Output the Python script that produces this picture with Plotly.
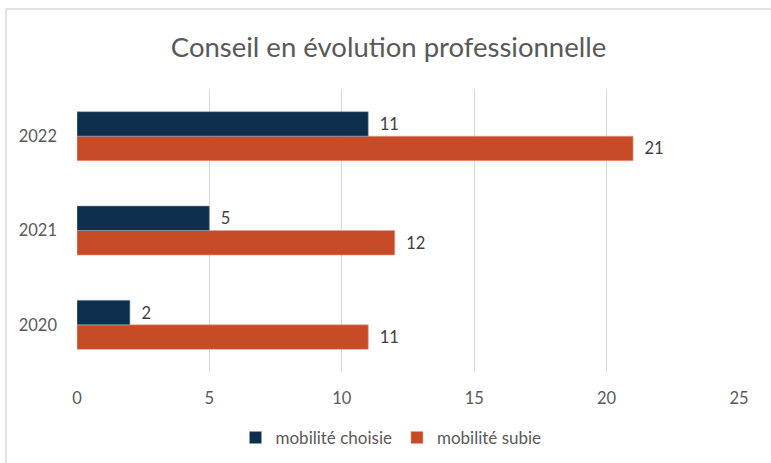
import plotly.graph_objects as go

years = ["2020", "2021", "2022"]
choisie = [2, 5, 11]
subie = [11, 12, 21]
series_names = ["mobilité choisie", "mobilité subie"]
title_text = "Conseil en évolution professionnelle"
x_ticks = [0, 5, 10, 15, 20, 25]

W, H = 771, 463
L, R, T, B = 77, 32, 89, 91
pw, ph = W - L - R, H - T - B

def px_x(px):
    return (px - L) / pw

def px_y(py):
    return (H - B - py) / ph

font = "Lato, 'Open Sans', sans-serif"
nb = "\u00a0\u00a0"

fig = go.Figure()
fig.add_trace(go.Bar(
    y=years, x=subie, name=series_names[1], orientation="h",
    marker=dict(color="#C64B26", line=dict(color="#E8A48E", width=0.6)),
    text=[nb + str(v) for v in subie], textposition="outside",
    textfont=dict(color="#404040", size=16.5, family=font), cliponaxis=False,
))
fig.add_trace(go.Bar(
    y=years, x=choisie, name=series_names[0], orientation="h",
    marker=dict(color="#0E2F4C", line=dict(color="#8EA3B8", width=0.6)),
    text=[nb + str(v) for v in choisie], textposition="outside",
    textfont=dict(color="#404040", size=16.5, family=font), cliponaxis=False,
))

fig.update_layout(
    width=W, height=H,
    margin=dict(l=L, r=R, t=T, b=B, autoexpand=False),
    paper_bgcolor="white", plot_bgcolor="white",
    barmode="group", bargap=0.48, bargroupgap=0,
    title=dict(text=title_text, x=388.5 / W, xref="container", xanchor="center",
               y=1 - 47 / H, yanchor="middle",
               font=dict(family=font, size=27.5, color="#595959")),
    font=dict(family=font, color="#595959", size=16.5),
    showlegend=True,
    legend=dict(orientation="h", x=px_x(391), xanchor="center",
                y=px_y(438), yanchor="middle", traceorder="reversed",
                font=dict(size=17, color="#595959"), itemwidth=30,
                bgcolor="rgba(0,0,0,0)"),
    shapes=[
        dict(type="line", xref="paper", yref="paper",
             x0=px_x(6), x1=px_x(771), y0=px_y(9), y1=px_y(9),
             line=dict(color="#D9D9D9", width=1.5)),
        dict(type="line", xref="paper", yref="paper",
             x0=px_x(6), x1=px_x(6), y0=px_y(9), y1=px_y(463),
             line=dict(color="#D9D9D9", width=1.5)),
    ],
)
fig.update_xaxes(range=[0, 25], tickvals=x_ticks, showgrid=True,
                 gridcolor="#D9D9D9", gridwidth=1, zeroline=False,
                 showline=False, ticks="", ticklabelstandoff=14,
                 automargin=False,
                 tickfont=dict(size=16.5, color="#595959"))
fig.update_yaxes(showgrid=False, zeroline=False, showline=False, ticks="",
                 ticklabelstandoff=19, automargin=False,
                 tickfont=dict(size=16.5, color="#595959"))

fig.write_html("out.html", config={"displayModeBar": False},
               post_script="document.body.style.margin='0';")
